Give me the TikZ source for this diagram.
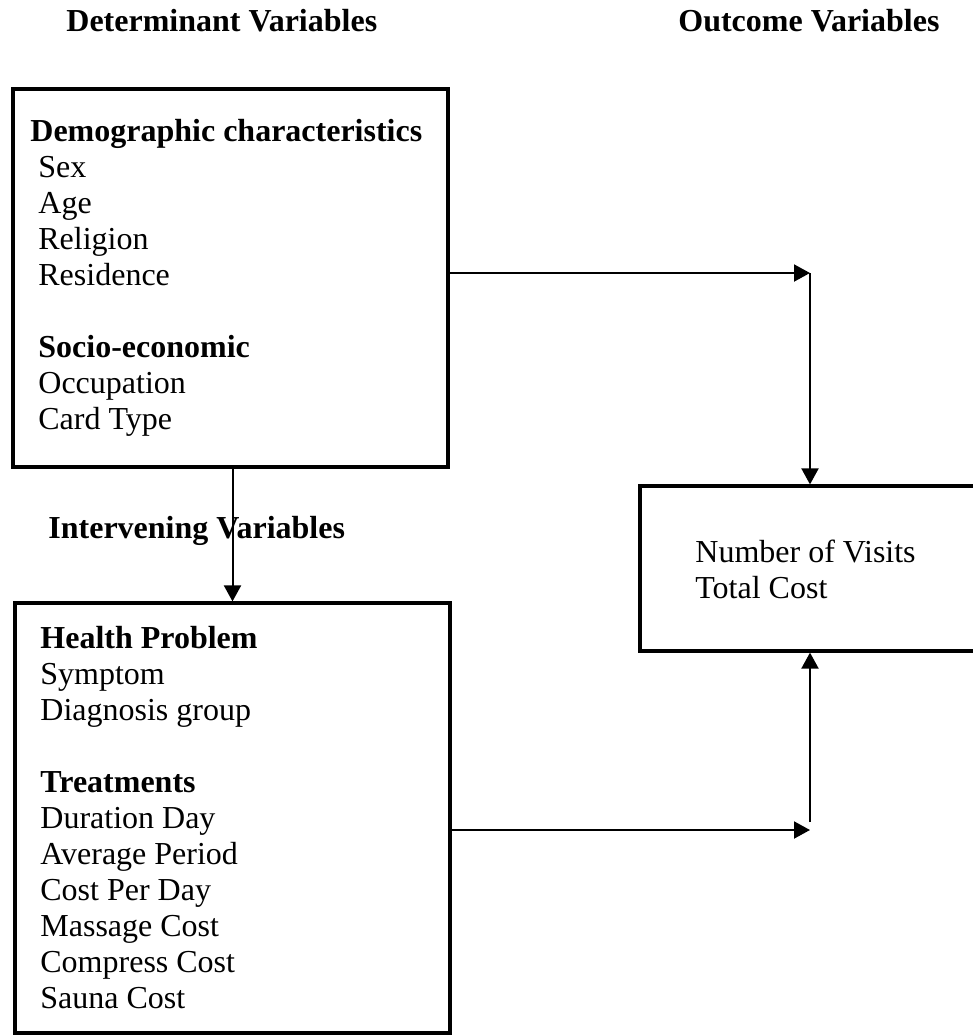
\documentclass[tikz,border=0pt]{standalone}
\usepackage{fontspec}
\setmainfont{Liberation Serif}
\usetikzlibrary{arrows.meta, positioning}

\begin{document}
\begin{tikzpicture}[x=0.5pt, y=-0.5pt,
  box/.style={rectangle, draw=black, line width=1.6pt, inner sep=0pt},
  txt/.style={anchor=base west, inner sep=0pt, font=\fontsize{16}{18}\selectfont},
  hd/.style={txt, font=\fontsize{16}{18}\selectfont\bfseries},
  arr/.style={-{Triangle[length=8pt, width=8.5pt]}, line width=1pt}
]
\useasboundingbox (0,0) rectangle (973,1035);
%% Titles
\node[hd] (tdet) at (66,31)  {Determinant Variables};
\node[hd] (tout) at (678,31) {Outcome Variables};
\node[hd] (tint) at (48,538) {Intervening Variables};
%% Boxes
\node[box, minimum width=217.5pt, minimum height=189pt] (demo)   at (230.5,278) {};
\node[box, minimum width=217.5pt, minimum height=215pt] (health) at (232.5,818) {};
\node[box, minimum width=169pt,   minimum height=82.5pt] (outc)  at (809,568.5) {};
%% Determinant box
\node[hd]  (dhead) at (30,141) {Demographic characteristics};
\node[txt] (dsex)  at (38,177) {Sex};
\node[txt] (dage)  at (38,213) {Age};
\node[txt] (drel)  at (38,249) {Religion};
\node[txt] (dres)  at (38,285) {Residence};
\node[hd]  (shead) at (38,357) {Socio-economic};
\node[txt] (socc)  at (38,393) {Occupation};
\node[txt] (scard) at (38,429) {Card Type};
%% Intervening box
\node[hd]  (hhead) at (40,648)  {Health Problem};
\node[txt] (hsym)  at (40,684)  {Symptom};
\node[txt] (hdiag) at (40,720)  {Diagnosis group};
\node[hd]  (thead) at (40,792)  {Treatments};
\node[txt] (tdur)  at (40,828)  {Duration Day};
\node[txt] (tavg)  at (40,864)  {Average Period};
\node[txt] (tcpd)  at (40,900)  {Cost Per Day};
\node[txt] (tmas)  at (40,936)  {Massage Cost};
\node[txt] (tcom)  at (40,972)  {Compress Cost};
\node[txt] (tsau)  at (40,1008) {Sauna Cost};
%% Outcome box
\node[txt] (onum)  at (695,562) {Number of Visits};
\node[txt] (ocost) at (695,598) {Total Cost};
%% Connectors
\coordinate (jtop) at (810,273);
\coordinate (jbot) at (810,830);
\coordinate (jup)  at (810,822);
\draw[arr] (demo.east |- jtop) -- (jtop);
\draw[arr] (jtop) -- (jtop |- outc.north);
\draw[arr] (demo.south -| health.north) -- (health.north);
\draw[arr] (health.east |- jbot) -- (jbot);
\draw[arr] (jup) -- (jup |- outc.south);
\end{tikzpicture}
\end{document}
